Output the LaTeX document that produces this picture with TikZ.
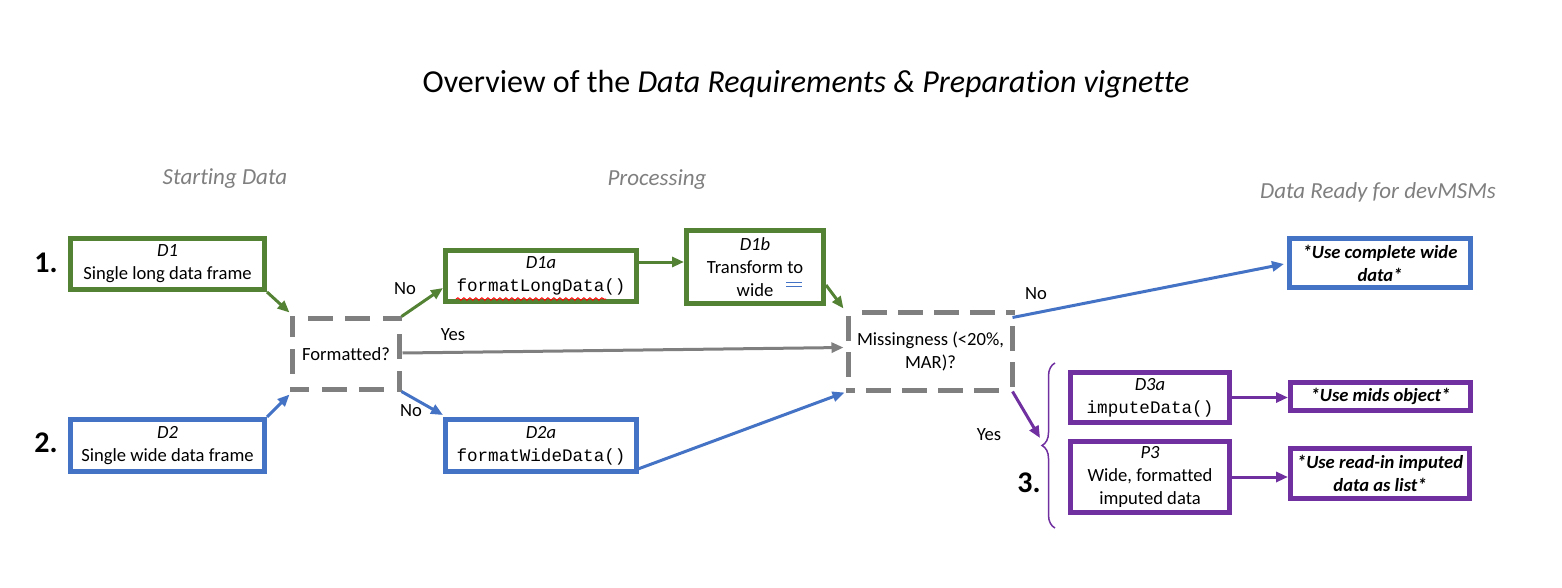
\documentclass[tikz,border=0pt]{standalone}
\usepackage{fontspec}
\setmainfont{Carlito}[Ligatures=NoCommon]
\setmonofont{Liberation Mono}
\usepackage{tikz}
\usetikzlibrary{arrows.meta,decorations.pathreplacing,decorations.pathmorphing}
\definecolor{dgreen}{HTML}{548235}
\definecolor{dblue}{HTML}{4472C4}
\definecolor{dpurple}{HTML}{7030A0}
\definecolor{dgray}{HTML}{7F7F7F}
\newcommand{\rfun}[1]{{\fontsize{8.8pt}{11.5pt}\selectfont\ttfamily #1}}
% dashed border drawn side by side, so that each corner gets a dash
\newcommand{\dashedsides}[1]{\draw[dline] (#1.north west) -- (#1.north east)
  (#1.north east) -- (#1.south east) (#1.south east) -- (#1.south west)
  (#1.south west) -- (#1.north west);}

\begin{document}
\begin{tikzpicture}[x=0.5pt,y=-0.5pt,
  >={Triangle[length=6pt,width=5pt]},
  box/.style={draw,line width=2.5pt,inner sep=0pt,align=center,
              font=\fontsize{9.3pt}{11.5pt}\selectfont},
  gbox/.style={box,draw=dgreen},
  bbox/.style={box,draw=dblue},
  pbox/.style={box,draw=dpurple},
  dbox/.style={box,draw=none,outer sep=0pt},
  dline/.style={draw=dgray,line width=2.5pt,line cap=rect,
                dash pattern=on 10pt off 8pt,dash expand off},
  ready/.style={font=\fontsize{9.3pt}{11.5pt}\selectfont\bfseries\itshape},
  arr/.style={->,line width=1.5pt},
  lbl/.style={font=\fontsize{9.3pt}{11.5pt}\selectfont,inner sep=0pt},
  head/.style={font=\fontsize{11.5pt}{13pt}\selectfont\itshape,text=dgray},
  num/.style={font=\fontsize{15pt}{17pt}\selectfont\bfseries,inner sep=0pt}]
  \useasboundingbox (0,0) rectangle (1562,588);
  \node[font=\fontsize{16pt}{19pt}\selectfont] (ttl) at (806,84)
    {Overview of the \textit{Data Requirements \& Preparation vignette}};
  \node[head] (h1) at (225,179) {Starting Data};
  \node[head] (h2) at (657,180) {Processing};
  \node[head] (h3) at (1378,192) {Data Ready for devMSMs};
  %  -- - starting data  -- -
  \node[gbox, minimum width=97pt, minimum height=25.5pt] (D1) at (167.5,264)
    {\textit{D1}\\Single long data frame};
  \node[bbox, minimum width=97pt, minimum height=26pt] (D2) at (167.5,445.5)
    {\textit{D2}\\Single wide data frame};
  \node[num] (n1) at (46,263) {1.};
  \node[num] (n2) at (46,443) {2.};
  %  -- - processing  -- -
  \node[dbox, minimum width=53.5pt, minimum height=35.5pt] (fmt) at (346,354) {Formatted?};
  \dashedsides{fmt}
  \node[gbox, minimum width=95.5pt, minimum height=25.5pt] (D1a) at (541,276)
    {\textit{D1a}\\\rfun{formatLongData()}};
  \node[gbox, minimum width=68.5pt, minimum height=36.5pt] (D1b) at (755,267)
    {\textit{D1b}\\Transform to\\wide};
  \node[bbox, minimum width=95.5pt, minimum height=26pt] (D2a) at (541,445.5)
    {\textit{D2a}\\\rfun{formatWideData()}};
  \node[dbox, minimum width=82pt, minimum height=39pt] (miss) at (930.5,351.5)
    {Missingness (<20\%,\\MAR)?};
  \dashedsides{miss}
  \draw[red, line width=0.5pt, decorate, decoration={snake,amplitude=0.6pt,segment length=3pt}]
    ([shift={(-85,23)}]D1a.center) -- ([shift={(65,23)}]D1a.center);
  \draw[dblue, line width=0.5pt] ([shift={(31,15)}]D1b.center) -- ([shift={(47,15)}]D1b.center)
    ([shift={(31,19)}]D1b.center) -- ([shift={(47,19)}]D1b.center);
  %  -- - ready for devMSMs  -- -
  \node[bbox, ready, minimum width=90.5pt, minimum height=24.5pt] (cwide) at (1380,263)
    {*Use complete wide\\data*};
  \node[pbox, minimum width=79.5pt, minimum height=25pt] (D3a) at (1150,397.5)
    {\textit{D3a}\\\rfun{imputeData()}};
  \node[pbox, minimum width=79.5pt, minimum height=35.5pt] (P3) at (1150,477)
    {\textit{P3}\\Wide, formatted\\imputed data};
  \node[pbox, ready, minimum width=90pt, minimum height=14pt] (mids) at (1380.5,396.5)
    {*Use mids object*};
  \node[pbox, ready, minimum width=89.5pt, minimum height=25pt] (readin) at (1380,473.5)
    {*Use read-in imputed\\data as list*};
  \node[num] (n3) at (1029,483) {3.};
  \draw[dpurple, line width=0.75pt, decorate, decoration={brace,amplitude=6.5pt}]
    (1055,528) -- (1055,363);
  \coordinate (bt) at (1042,446);
  %  -- - connectors  -- -
  \draw[arr, dgreen] (D1.south east) -- ([shift={(-3,-6)}]fmt.north west);
  \draw[arr, dblue] (D2.north east) -- ([shift={(-3,5)}]fmt.south west);
  \draw[arr, dgreen] ([shift={(2,-2)}]fmt.north east) -- ([shift={(0,12)}]D1a.west);
  \draw[arr, dblue] ([shift={(2,2)}]fmt.south east) -- ([shift={(0,-2)}]D2a.north west);
  \draw[arr, dgray] ([shift={(3,-1)}]fmt.east) -- ([shift={(-5,-4)}]miss.west);
  \draw[arr, dgreen] ([shift={(0,-14)}]D1a.east) -- ([shift={(0,-5)}]D1b.west);
  \draw[arr, dgreen] ([shift={(0,18)}]D1b.east) -- ([shift={(-5,-4)}]miss.north west);
  \draw[arr, dblue] ([shift={(-1,-5)}]D2a.south east) -- ([shift={(-4,2)}]miss.south west);
  \draw[arr, dblue] ([shift={(0,5)}]miss.north east) -- ([shift={(-3,1)}]cwide.west);
  \draw[arr, dpurple] ([shift={(0,1)}]miss.south east) -- ([shift={(-2,-8)}]bt);
  \draw[arr, dpurple] (D3a.east) -- (D3a.east -| mids.west);
  \draw[arr, dpurple] (P3.east) -- (P3.east -| readin.west);
  \node[lbl] (no1) at (405,289) {No};
  \node[lbl] (yes1) at (453,335) {Yes};
  \node[lbl] (no2) at (411,411) {No};
  \node[lbl] (no3) at (1036,294) {No};
  \node[lbl] (yes2) at (989,435) {Yes};
\end{tikzpicture}
\end{document}
